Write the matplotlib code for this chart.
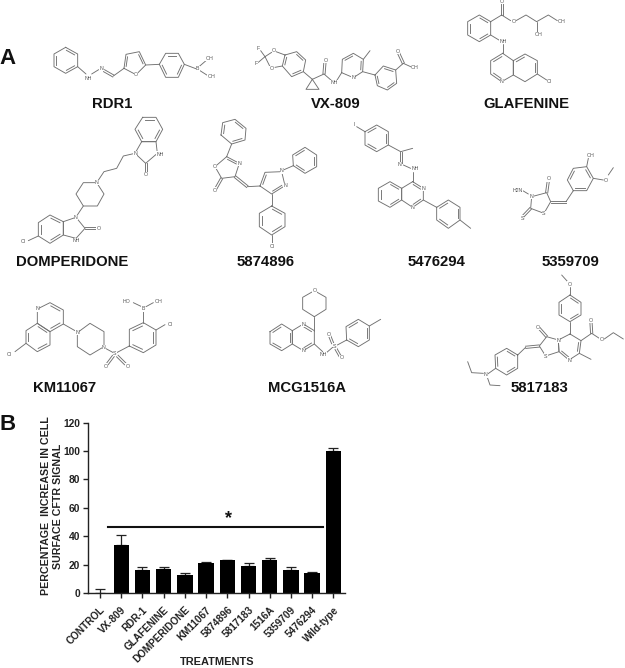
import matplotlib
matplotlib.use("Agg")
import matplotlib.pyplot as plt
import numpy as np

plt.rcParams['font.family'] = ['Liberation Sans', 'DejaVu Sans']

treatments = ["CONTROL", "VX-809", "RDR-1", "GLAFENINE", "DOMPERIDONE", "KM11067",
              "5874896", "5817183", "1516A", "5359709", "5476294", "Wild-type"]
means = [0, 34, 16, 17, 13, 21, 23, 19, 23, 16, 14, 100]
errors = [3, 7, 2, 1, 1, 1, 0.3, 2, 2, 2, 1, 2]
yticks = [0, 20, 40, 60, 80, 100, 120]
signif_level = 46.5
star_level = 46.5

fig = plt.figure(figsize=(6.25, 6.68), dpi=100, facecolor='white')
ov = fig.add_axes([0, 0, 1, 1])
ov.set_xlim(0, 625); ov.set_ylim(668, 0); ov.axis('off')

GR = '#707070'
LW = 0.65


class Mol:
    def __init__(self, ox, oy):
        self.ox, self.oy = ox, oy

    def P(self, p):
        return np.array([self.ox + p[0] / 3.0, self.oy + p[1] / 3.0])

    def line(self, *pts):
        a = np.array([self.P(p) for p in pts])
        ov.plot(a[:, 0], a[:, 1], color=GR, lw=LW, solid_capstyle='round')

    def dbl(self, p, q, off=1.1):
        a, b = self.P(p), self.P(q)
        n = np.array([-(b - a)[1], (b - a)[0]]); n = n / np.hypot(*n) * off
        for s in (-1, 1):
            ov.plot([a[0] + s * n[0], b[0] + s * n[0]], [a[1] + s * n[1], b[1] + s * n[1]],
                    color=GR, lw=LW)

    def ring(self, pts, doubles=()):
        a = np.array([self.P(p) for p in pts])
        c = a.mean(axis=0)
        closed = np.vstack([a, a[0]])
        ov.plot(closed[:, 0], closed[:, 1], color=GR, lw=LW, solid_joinstyle='round')
        for i in doubles:
            p, q = a[i], a[(i + 1) % len(a)]
            p2 = p + (c - p) * 0.2 + (q - p) * 0.06
            q2 = q + (c - q) * 0.2 + (p - q) * 0.06
            ov.plot([p2[0], q2[0]], [p2[1], q2[1]], color=GR, lw=LW)

    def lab(self, p, s, fs=3.8):
        x, y = self.P(p)
        ov.text(x, y, s, fontsize=fs, color='#555555', ha='center', va='center',
                bbox=dict(fc='white', ec='none', pad=0.15), zorder=3)


# RDR1
m = Mol(0, 0)
m.ring([(197, 142), (233, 162), (233, 200), (197, 220), (162, 200), (162, 162)], (0, 2, 4))
m.line((233, 200), (258, 222)); m.lab((266, 234), "NH")
m.line((275, 222), (296, 209)); m.lab((303, 207), "N")
m.dbl((312, 212), (340, 228)); m.line((340, 228), (372, 205))
m.ring([(372, 205), (378, 163), (418, 155), (437, 195), (408, 224)], (0, 2))
m.lab((408, 224), "O")
m.line((437, 195), (478, 193))
m.ring([(478, 193), (497, 160), (535, 160), (553, 193), (535, 232), (497, 232)], (1, 3, 5))
m.line((553, 193), (590, 207)); m.lab((593, 207), "B")
m.line((597, 200), (618, 182)); m.lab((628, 176), "OH")
m.line((600, 212), (622, 226)); m.lab((634, 228), "OH")

# VX-809
m = Mol(250, 30)
m.line((32, 62), (45, 80)); m.line((25, 97), (45, 80)); m.line((45, 80), (65, 67)); m.line((45, 80), (60, 110))
m.lab((25, 57), "F"); m.lab((18, 100), "F"); m.lab((72, 62), "O"); m.lab((65, 115), "O")
m.line((78, 65), (105, 75)); m.line((75, 112), (97, 108))
m.ring([(105, 75), (140, 65), (167, 90), (160, 125), (125, 140), (97, 108)], (1, 3, 5))
m.line((160, 125), (187, 148))
m.ring([(187, 148), (168, 178), (207, 178)])
m.line((187, 148), (222, 132)); m.dbl((222, 132), (225, 95)); m.lab((227, 90), "O")
m.line((222, 132), (245, 152)); m.lab((252, 157), "NH"); m.line((260, 152), (275, 128))
m.ring([(275, 128), (277, 88), (310, 70), (340, 88), (338, 125), (310, 143)], (1, 3))
m.lab((310, 143), "N")
m.line((340, 88), (360, 62)); m.line((338, 125), (375, 135))
m.ring([(375, 135), (400, 108), (437, 120), (440, 160), (412, 180), (382, 167)], (1, 3, 5))
m.line((437, 120), (460, 100)); m.dbl((460, 100), (446, 70)); m.lab((444, 65), "O")
m.line((460, 100), (484, 111)); m.lab((495, 113), "OH")

# GLAFENINE
m = Mol(320, 0)
m.ring([(512, 65), (512, 105), (478, 125), (443, 105), (443, 65), (478, 45)], (1, 3, 5))
m.line((512, 65), (545, 45)); m.dbl((545, 45), (545, 8)); m.lab((545, 4), "O")
m.line((545, 45), (572, 62)); m.lab((580, 65), "O")
m.line((588, 62), (618, 45), (650, 65), (685, 45), (712, 62)); m.lab((725, 65), "OH")
m.line((650, 65), (650, 98)); m.lab((655, 105), "OH")
m.line((512, 105), (540, 122)); m.lab((550, 125), "NH"); m.line((548, 132), (548, 160))
m.ring([(548, 160), (512, 182), (512, 222), (545, 245), (580, 225), (580, 182)], (0, 2))
m.lab((545, 245), "N")
m.ring([(580, 182), (615, 162), (652, 182), (652, 222), (615, 245), (580, 225)], (0, 2))
m.line((652, 222), (680, 240)); m.lab((688, 245), "Cl")

# DOMPERIDONE
m = Mol(0, 0)
m.ring([(428, 352), (468, 352), (488, 388), (468, 425), (425, 425), (405, 388)], (0, 2, 4))
m.ring([(425, 425), (468, 425), (472, 460), (437, 490), (405, 460)])
m.lab((480, 462), "NH"); m.lab((405, 460), "N")
m.dbl((437, 490), (437, 518)); m.lab((437, 523), "O")
m.line((405, 460), (370, 468), (350, 505), (312, 515), (290, 548))
m.ring([(290, 548), (312, 582), (292, 618), (250, 618), (228, 582), (250, 548)])
m.lab((290, 548), "N")
m.line((250, 618), (230, 648))
m.ring([(228, 652), (190, 665), (190, 705), (228, 715), (255, 685)])
m.lab((228, 652), "N"); m.lab((228, 722), "NH")
m.dbl((255, 685), (288, 685)); m.lab((295, 685), "O")
m.ring([(190, 665), (150, 645), (115, 668), (115, 708), (150, 730), (190, 705)], (0, 2, 4))
m.line((115, 708), (85, 722)); m.lab((70, 725), "Cl")

# 5874896
m.ring([(663, 405), (668, 368), (705, 358), (738, 385), (735, 420), (695, 432)], (0, 2, 4))
m.line((695, 432), (680, 470))
m.ring([(680, 470), (718, 490), (705, 530), (665, 535), (645, 500)], (0,))
m.lab((718, 490), "N"); m.lab((645, 500), "O")
m.dbl((665, 535), (648, 565)); m.lab((645, 570), "O")
m.dbl((705, 530), (742, 560)); m.line((742, 560), (780, 558))
m.ring([(780, 558), (795, 517), (845, 515), (855, 557), (815, 582)], (0, 3))
m.lab((845, 513), "N"); m.lab((855, 557), "N")
m.line((850, 510), (880, 497))
m.ring([(880, 497), (878, 465), (915, 442), (950, 465), (950, 500), (915, 520)], (1, 3, 5))
m.line((815, 582), (815, 618))
m.ring([(815, 618), (855, 640), (855, 680), (815, 705), (778, 680), (778, 640)], (0, 2, 4))
m.line((815, 705), (815, 730)); m.lab((818, 738), "Cl")

# 5476294
m = Mol(320, 0)
m.lab((102, 375), "I"); m.line((110, 380), (135, 395))
m.ring([(135, 395), (170, 375), (205, 395), (205, 435), (170, 455), (135, 435)], (0, 2, 4))
m.line((205, 435), (242, 455), (278, 445)); m.dbl((242, 455), (242, 488)); m.lab((240, 495), "N")
m.line((250, 495), (272, 505)); m.lab((285, 505), "NH"); m.line((278, 515), (278, 545))
m.ring([(278, 545), (310, 565), (310, 600), (278, 622), (245, 600), (245, 565)], (0, 2))
m.lab((310, 565), "N"); m.lab((278, 622), "N")
m.ring([(245, 565), (210, 545), (175, 565), (175, 603), (210, 622), (245, 600)], (0, 2, 4))
m.line((310, 600), (350, 622))
m.ring([(350, 622), (385, 600), (420, 622), (420, 660), (385, 685), (350, 660)], (0, 2, 4))
m.line((420, 660), (452, 685))

# 5359709
m.lab((592, 570), "H2N"); m.line((605, 570), (625, 582))
m.ring([(635, 590), (680, 578), (692, 605), (672, 640), (632, 625)])
m.lab((635, 590), "N"); m.lab((672, 640), "S")
m.dbl((680, 578), (685, 542)); m.lab((686, 537), "O")
m.dbl((632, 625), (610, 648)); m.lab((607, 654), "S")
m.dbl((692, 605), (738, 605)); m.line((738, 605), (760, 572))
m.ring([(760, 572), (742, 540), (760, 505), (800, 500), (820, 535), (800, 572)], (1, 3, 5))
m.line((800, 500), (805, 475)); m.lab((812, 466), "OH")
m.line((820, 535), (850, 540)); m.lab((858, 540), "O"); m.line((865, 525), (880, 503))

# KM11067
m = Mol(0, 290)
m.ring([(112, 57), (150, 38), (190, 60), (190, 102), (150, 125), (112, 100)], (1, 3))
m.lab((112, 57), "N")
m.ring([(112, 100), (78, 122), (78, 160), (112, 185), (150, 165), (150, 125)], (1, 3, 5))
m.line((78, 160), (45, 185)); m.lab((28, 193), "Cl")
m.line((190, 102), (225, 122))
m.ring([(232, 128), (270, 100), (312, 125), (312, 170), (270, 195), (232, 170)])
m.lab((232, 128), "N"); m.lab((312, 172), "N")
m.line((318, 176), (340, 188)); m.lab((345, 190), "S"); m.line((350, 188), (388, 168))
m.dbl((340, 198), (322, 222)); m.dbl((352, 198), (376, 222))
m.lab((318, 228), "O"); m.lab((382, 228), "O")
m.ring([(388, 168), (388, 118), (430, 98), (468, 120), (468, 165), (430, 188)], (1, 3, 5))
m.line((430, 98), (430, 64)); m.lab((430, 57), "B")
m.line((425, 50), (400, 38)); m.lab((380, 35), "HO")
m.line((438, 50), (460, 38)); m.lab((475, 35), "OH")
m.line((468, 120), (495, 104)); m.lab((510, 103), "Cl")

# MCG1516A
m = Mol(260, 280)
m.ring([(30, 155), (65, 132), (97, 152), (97, 192), (65, 212), (30, 192)], (0, 2, 4))
m.ring([(97, 152), (130, 132), (163, 152), (163, 192), (130, 212), (97, 192)], (1, 3))
m.lab((130, 132), "N"); m.lab((130, 212), "N")
m.line((163, 152), (163, 110))
m.ring([(163, 110), (198, 88), (198, 52), (163, 32), (128, 52), (128, 88)])
m.lab((163, 32), "O")
m.line((163, 192), (188, 215)); m.lab((190, 225), "NH"); m.line((197, 220), (218, 202))
m.lab((224, 198), "S"); m.dbl((218, 190), (210, 170)); m.dbl((228, 207), (240, 228))
m.lab((207, 163), "O"); m.lab((245, 233), "O")
m.line((232, 195), (260, 180))
m.ring([(260, 180), (258, 140), (295, 118), (328, 138), (328, 180), (295, 200)], (1, 3, 5))
m.line((328, 138), (362, 118))

# 5817183
m = Mol(455, 270)
m.line((320, 15), (338, 35)); m.lab((343, 42), "O"); m.line((345, 50), (345, 75))
m.ring([(345, 75), (378, 97), (378, 135), (345, 155), (312, 135), (312, 97)], (0, 2, 4))
m.line((345, 155), (345, 192))
m.ring([(345, 192), (378, 212), (373, 250), (342, 270), (312, 245), (310, 210)], (1, 3))
m.lab((342, 270), "N"); m.lab((310, 210), "N")
m.ring([(310, 210), (275, 200), (253, 228), (272, 258), (312, 245)])
m.lab((272, 258), "S")
m.dbl((275, 200), (252, 174)); m.lab((248, 172), "O")
m.dbl((253, 228), (212, 232)); m.line((212, 232), (188, 255))
m.ring([(188, 255), (155, 235), (120, 255), (122, 295), (155, 315), (188, 295)], (0, 2, 4))
m.line((122, 295), (98, 312)); m.lab((92, 315), "N")
m.line((85, 310), (50, 308), (38, 275)); m.line((97, 322), (105, 345), (135, 347))
m.line((378, 212), (410, 190)); m.dbl((410, 190), (408, 158)); m.lab((408, 152), "O")
m.line((410, 190), (433, 205)); m.lab((440, 208), "O"); m.line((448, 207), (475, 188), (505, 207))
m.line((373, 250), (408, 268))

# compound names and panel letters
names = [("RDR1", 112, 104), ("VX-809", 336, 104), ("GLAFENINE", 526, 104),
         ("DOMPERIDONE", 72, 262), ("5874896", 266, 262), ("5476294", 437, 262),
         ("5359709", 570, 262), ("KM11067", 65, 388), ("MCG1516A", 307, 388), ("5817183", 539, 388)]
for s, x, y in names:
    ov.text(x, y, s, fontsize=10.7, fontweight='bold', color='#111111', ha='center', va='center')
ov.text(8, 59, "A", fontsize=16, fontweight='bold', color='#111111', ha='center', va='center')
ov.text(8, 425, "B", fontsize=16, fontweight='bold', color='#111111', ha='center', va='center')

# panel B bar chart
ax = fig.add_axes([88 / 625, (668 - 593) / 668, 257 / 625, 170.3 / 668])
ax.patch.set_alpha(0)
x = np.arange(len(treatments))
ax.bar(x, means, width=0.72, color='black', zorder=2)
ax.errorbar(x, means, yerr=[np.zeros(len(errors)), errors], fmt='none', ecolor='#222222',
            elinewidth=0.9, capsize=3.4, capthick=0.9, zorder=1)
ax.set_xlim(-0.57, 11.55)
ax.set_ylim(0, 120)
ax.set_yticks(yticks)
ax.set_xticks(x)
ax.set_xticklabels(treatments, rotation=45, ha='right', rotation_mode='anchor',
                   fontsize=7.2, fontweight='bold', color='#222222')
for lb in ax.get_yticklabels():
    lb.set_fontsize(7.4); lb.set_fontweight('bold'); lb.set_color('#222222')
ax.tick_params(axis='y', width=1.0, length=3.5, pad=2, color='#222222')
ax.tick_params(axis='x', width=1.0, length=3.5, pad=5, color='#222222')
for s in ('top', 'right'):
    ax.spines[s].set_visible(False)
for s in ('left', 'bottom'):
    ax.spines[s].set_linewidth(1.0); ax.spines[s].set_color('#222222')
ax.plot([0.38, 10.5], [signif_level, signif_level], color='#111111', lw=1.5, zorder=3)
ax.text(6.05, star_level, "*", fontsize=13, fontweight='bold', ha='center', va='bottom',
        color='#111111')

fig.text(52 / 625, 1 - 506 / 668, "PERCENTAGE  INCREASE IN CELL\nSURFACE CFTR SIGNAL", rotation=90,
         ha='center', va='center', ma='center', fontsize=7.7, fontweight='bold', color='#222222',
         linespacing=1.2)
fig.text(217 / 625, 1 - 662 / 668, "TREATMENTS", ha='center', va='center', fontsize=7.9,
         fontweight='bold', color='#222222')

fig.savefig("out.png", dpi=100, facecolor='white')
